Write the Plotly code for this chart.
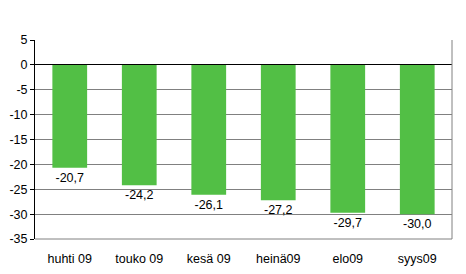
import plotly.graph_objects as go

categories = ["huhti 09", "touko 09", "kesä 09", "heinä09", "elo09", "syys09"]
values = [-20.7, -24.2, -26.1, -27.2, -29.7, -30.0]
tick_vals = [5, 0, -5, -10, -15, -20, -25, -30, -35]
tick_text = ["5", "0", "-5", "-10", "-15", "-20", "-25", "-30", "-35"]

labels = [f"{v:.1f}".replace(".", ",") for v in values]

fig = go.Figure(go.Bar(
    x=categories, y=values, text=labels, textposition="outside",
    marker=dict(color="#52BF45", line=dict(width=0)),
    width=0.5, cliponaxis=False,
    textfont=dict(family="Liberation Sans, Arial", size=12.5, color="black"),
))

fig.update_layout(
    width=466, height=274,
    margin=dict(l=35, r=14, t=40, b=35, autoexpand=False),
    paper_bgcolor="white", plot_bgcolor="white",
    showlegend=False,
    font=dict(family="Liberation Sans, Arial", size=12.5, color="black"),
)
fig.update_yaxes(
    range=[-35, 5], tickvals=tick_vals, ticktext=tick_text,
    showgrid=True, gridcolor="#808080", gridwidth=1,
    zeroline=True, zerolinecolor="black", zerolinewidth=1,
    showline=True, linecolor="black", linewidth=1,
    ticks="outside", ticklen=4, tickcolor="black",
    tickfont=dict(size=12.5), fixedrange=True, automargin=False,
)
fig.update_xaxes(
    showgrid=False, showline=False, ticks="",
    tickfont=dict(size=12.5), ticklabelstandoff=10, automargin=False,
)
# gray border on right and bottom of plot area
fig.add_shape(type="line", xref="paper", yref="paper", x0=1, x1=1, y0=0, y1=1,
              line=dict(color="#808080", width=1))
fig.add_shape(type="line", xref="paper", yref="paper", x0=0, x1=1, y0=0, y1=0,
              line=dict(color="#808080", width=1))

fig.write_html("out.html")
